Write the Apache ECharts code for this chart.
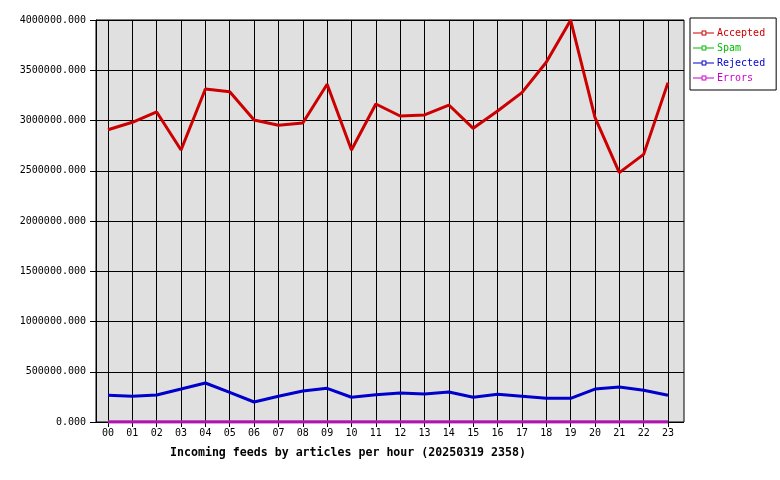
<!DOCTYPE html>
<html><head><meta charset="utf-8">
<script src="https://cdn.jsdelivr.net/npm/echarts@6/dist/echarts.min.js"></script>
<style>html,body{margin:0;padding:0;background:#fff}#c{width:780px;height:480px}</style>
</head><body><div id="c"></div>
<script>
const hours = ['00','01','02','03','04','05','06','07','08','09','10','11','12','13','14','15','16','17','18','19','20','21','22','23'];
const accepted = [2908000,2982000,3085000,2706000,3313000,3287000,3005000,2952000,2975000,3360000,2706000,3164000,3045000,3055000,3154000,2922000,3095000,3277000,3579000,3998000,3032000,2481000,2663000,3377000];
const spam = [0,0,0,0,0,0,0,0,0,0,0,0,0,0,0,0,0,0,0,0,0,0,0,0];
const rejected = [266000,256000,269000,328000,388000,295000,199000,256000,308000,335000,246000,272000,289000,279000,299000,246000,275000,256000,236000,236000,328000,348000,315000,266000];
const errors = [0,0,0,0,0,0,0,0,0,0,0,0,0,0,0,0,0,0,0,0,0,0,0,0];
const yTicks = {min:0, max:4000000, interval:500000};
const titleText = 'Incoming feeds by articles per hour (20250319 2358)';

const FONT = 'DejaVu Sans Mono';
const colors = {Accepted:'#cc0000', Spam:'#00bb00', Rejected:'#0000cc', Errors:'#cc00cc'};
const legendIcon = 'path://M0,2L9,2L9,0L14,0L14,2L22,2L22,3L14,3L14,5L9,5L9,3L0,3Z M10,1L10,4L13,4L13,1Z';

const chart = echarts.init(document.getElementById('c'), null, {renderer:'canvas'});
function mk(name, data, w, z){
  return {name, type:'line', xAxisIndex:1, yAxisIndex:1, data, symbol:'none',
    lineStyle:{color:colors[name], width:w}, itemStyle:{color:colors[name]}, z, animation:false};
}
chart.setOption({
  animation:false,
  backgroundColor:'#fff',
  title:{text:titleText, left:170, top:447, padding:0,
    textStyle:{fontFamily:FONT, fontWeight:'bold', fontSize:11.6, color:'#000'}},
  legend:{orient:'vertical', left:690, top:18, backgroundColor:'#fff', borderColor:'#000', borderWidth:1,
    padding:[10,11,7,3], itemWidth:21, itemHeight:5, itemGap:5,
    icon:legendIcon,
    textStyle:{fontFamily:FONT, fontSize:10, padding:[0,0,0,-2], lineHeight:10},
    data:['Accepted','Spam','Rejected','Errors'].map(n=>({name:n, textStyle:{color:colors[n]}}))},
  grid:[
    {left:96, top:20, width:588, height:402, show:true, backgroundColor:'#e0e0e0', borderColor:'#000', borderWidth:1, containLabel:false},
    {left:108, top:20, width:560, height:402, containLabel:false}
  ],
  xAxis:[
    {gridIndex:0, type:'value', show:false, min:0, max:1},
    {gridIndex:1, type:'category', data:hours, boundaryGap:false,
      axisLine:{show:false},
      axisTick:{show:true, length:5, lineStyle:{color:'#000', width:1}},
      splitLine:{show:true, lineStyle:{color:'#000', width:1}},
      axisLabel:{fontFamily:FONT, fontSize:10, color:'#000', margin:6}}
  ],
  yAxis:[
    {gridIndex:0, type:'value', min:yTicks.min, max:yTicks.max, interval:yTicks.interval,
      axisLine:{show:true, lineStyle:{color:'#000'}},
      axisTick:{show:true, length:6, lineStyle:{color:'#000'}},
      splitLine:{show:true, lineStyle:{color:'#000', width:1}},
      axisLabel:{fontFamily:FONT, fontSize:10, color:'#000', margin:10, formatter:v=>v.toFixed(3)}},
    {gridIndex:1, type:'value', min:yTicks.min, max:yTicks.max, show:false, splitLine:{show:false}}
  ],
  series:[
    mk('Accepted', accepted, 3, 5),
    mk('Spam', spam, 3, 3),
    mk('Rejected', rejected, 3, 4),
    mk('Errors', errors, 3, 6)
  ]
});
</script></body></html>
